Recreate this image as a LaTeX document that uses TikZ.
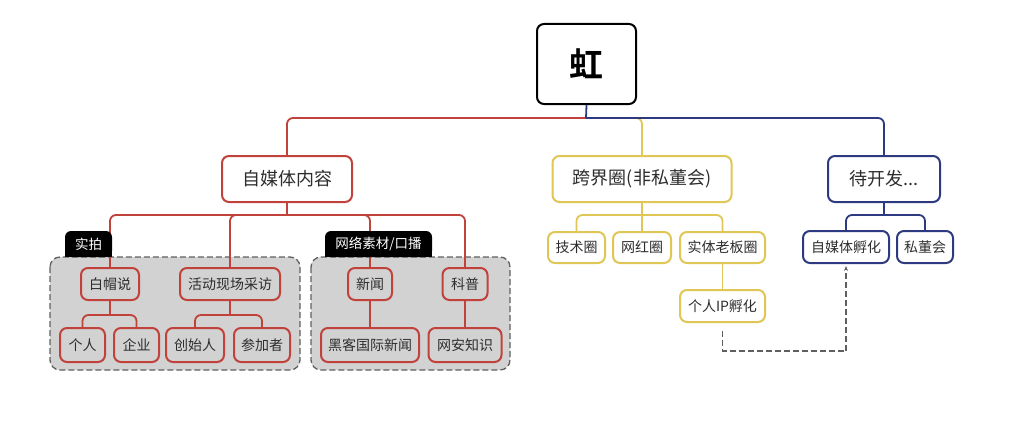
\documentclass[tikz,border=0pt]{standalone}
\usepackage{fontspec}
\setmainfont{Noto Sans CJK SC}
\newfontfamily\cjkb{Noto Sans CJK SC Bold}
\usetikzlibrary{arrows.meta}
\definecolor{cred}{RGB}{192,66,58}
\definecolor{cyel}{RGB}{224,198,84}
\definecolor{cblu}{RGB}{46,58,128}
\definecolor{cgry}{RGB}{95,95,95}
\definecolor{cfill}{RGB}{210,210,210}
\definecolor{ctxt}{RGB}{45,45,45}
\tikzset{
  box/.style={draw, line width=2pt, rounded corners=7pt, inner sep=0pt, text=ctxt, align=center},
  big/.style={box, font=\fontsize{18}{20}\selectfont, minimum height=46pt, fill=white},
  small/.style={box, font=\fontsize{14}{16}\selectfont},
  rbox/.style={small, draw=cred},
  ybox/.style={small, draw=cyel, fill=white},
  bbox/.style={small, draw=cblu, fill=white},
  rl/.style={draw=cred, line width=1.8pt, rounded corners=6pt},
  yl/.style={draw=cyel, line width=1.8pt, rounded corners=6pt},
  bl/.style={draw=cblu, line width=1.8pt, rounded corners=6pt},
  grp/.style={draw=cgry, dashed, dash pattern=on 6pt off 3pt, line width=1.3pt, fill=cfill, rounded corners=10pt},
  tab/.style={fill=black, text=white, rounded corners=6pt, inner sep=0pt, font=\fontsize{13.5}{15}\selectfont, minimum height=26pt},
  dline/.style={draw=cgry, line width=1.2pt, dash pattern=on 6pt off 3pt, -{Stealth[length=5pt,width=4pt]}}
}
\begin{document}
\begin{tikzpicture}[x=1pt,y=-1pt]
\useasboundingbox (0,0) rectangle (1014,436);
% groups
\path[grp] (50,257) rectangle (300,370);
\path[grp] (311,257) rectangle (510,370);
% nodes
\node[box, draw=black, fill=white, minimum width=99pt, minimum height=80pt, font=\cjkb\fontsize{34}{36}\selectfont, text=black] (root) at (586.5,64) {虹};
\node[big, draw=cred, minimum width=130pt] (zm) at (287,179) {自媒体内容};
\node[big, draw=cyel, minimum width=179pt] (kj) at (642,179) {跨界圈(非私董会)};
\node[big, draw=cblu, minimum width=112pt] (dk) at (884,179) {待开发...};
% junctions
\coordinate (rj) at (586,118);
\coordinate (zmj) at (287,215);
\coordinate (kjj) at (642,215);
\coordinate (dkj) at (884,215);
\coordinate (bmj) at (110,315);
\coordinate (hdj) at (230,315);
% level 3 nodes
\node[rbox, minimum width=58pt, minimum height=32pt] (bm) at (110,284) {白帽说};
\node[rbox, minimum width=100pt, minimum height=32pt] (hd) at (230,284) {活动现场采访};
\node[rbox, minimum width=45pt, minimum height=34pt] (gr) at (82.5,345) {个人};
\node[rbox, minimum width=45pt, minimum height=34pt] (qy) at (136.5,345) {企业};
\node[rbox, minimum width=58pt, minimum height=34pt] (cs) at (195,345) {创始人};
\node[rbox, minimum width=56pt, minimum height=34pt] (cj) at (262,345) {参加者};
\node[rbox, minimum width=44pt, minimum height=32pt] (xw) at (370,284) {新闻};
\node[rbox, minimum width=45pt, minimum height=32pt] (kp) at (465,284) {科普};
\node[rbox, minimum width=98pt, minimum height=34pt] (hk) at (370,345) {黑客国际新闻};
\node[rbox, minimum width=73pt, minimum height=34pt] (wa) at (465,345) {网安知识};
\node[ybox, minimum width=57pt, minimum height=31pt] (js) at (576.5,247.5) {技术圈};
\node[ybox, minimum width=58pt, minimum height=31pt] (wh) at (642,247.5) {网红圈};
\node[ybox, minimum width=85pt, minimum height=31pt] (st) at (722.5,247.5) {实体老板圈};
\node[ybox, minimum width=85pt, minimum height=32pt] (ip) at (722.5,306) {个人IP孵化};
\node[bbox, minimum width=86pt, minimum height=32pt] (zf) at (846,247) {自媒体孵化};
\node[bbox, minimum width=56pt, minimum height=32pt] (sd) at (925,247) {私董会};
% connectors
\draw[yl] (rj) -| (kj.north);
\draw[rl] (rj) -| (zm.north);
\draw[bl] (root.south) -- (rj);
\draw[bl] (rj) -| (dk.north);
\draw[rl] (zm.south) -- (zmj);
\draw[rl] (zmj) -| (bm.north);
\draw[rl] (zmj) -| (hd.north);
\draw[rl] (zmj) -| (xw.north);
\draw[rl] (zmj) -| (kp.north);
\draw[rl] (bm.south) -- (bmj);
\draw[rl] (bmj) -| (gr.north);
\draw[rl] (bmj) -| (qy.north);
\draw[rl] (hd.south) -- (hdj);
\draw[rl] (hdj) -| (cs.north);
\draw[rl] (hdj) -| (cj.north);
\draw[rl] (xw.south) -- (hk.north);
\draw[rl] (kp.south) -- (wa.north);
\draw[yl] (kj.south) -- (kjj);
\draw[yl] (kjj) -| (js.north);
\draw[yl] (kjj) -| (wh.north);
\draw[yl] (kjj) -| (st.north);
\draw[yl] (st.south) -- (ip.north);
\draw[bl] (dk.south) -- (dkj);
\draw[bl] (dkj) -| (zf.north);
\draw[bl] (dkj) -| (sd.north);
\coordinate (dc) at (722.5,351);
\draw[dline, shorten <=8pt, shorten >=2pt] (ip.south) -- (dc) -| (zf.south);
% tabs
\fill[black] (65,244) rectangle (112,257);
\fill[black] (325,244) rectangle (432,257);
\node[tab, minimum width=47pt] (t1) at (88.5,244) {实拍};
\node[tab, minimum width=107pt] (t2) at (378.5,244) {网络素材/口播};
\end{tikzpicture}
\end{document}
